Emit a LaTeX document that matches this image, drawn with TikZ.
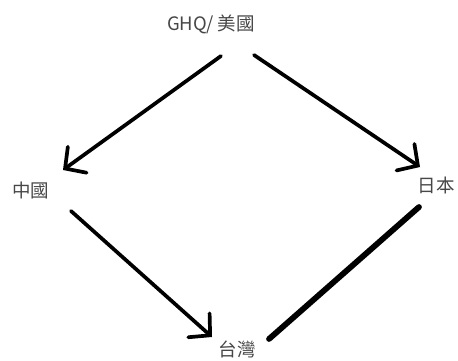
\documentclass[tikz,border=0pt]{standalone}
\usepackage{fontspec}
\setmainfont{Noto Sans CJK TC}
\usetikzlibrary{arrows.meta}
\begin{document}
\begin{tikzpicture}[x=1pt,y=-1pt,
  lbl/.style={inner sep=0pt,font=\fontsize{18.5}{20}\selectfont,text=black!72},
  conn/.style={line width=3.7pt,line cap=round,-{Straight Barb[length=15pt,width=32pt,line cap=round]}},
  thickconn/.style={line width=5.8pt,line cap=round}]
\useasboundingbox (0,0) rectangle (458,361);
\fill[white] (0,0) rectangle (458,361);
\node[lbl] (usa) at (211,24) {GHQ/ 美國};
\node[lbl] (china) at (31,190) {中國};
\node[lbl] (japan) at (436,185) {日本};
\node[lbl] (taiwan) at (237,349) {台灣};
\coordinate (a1) at (221,56);
\coordinate (a2) at (63,170);
\coordinate (b1) at (254,55);
\coordinate (b2) at (420,167);
\coordinate (c1) at (71,211);
\coordinate (c2) at (212,337);
\coordinate (d1) at (419,207);
\coordinate (d2) at (269,339);
\draw[conn] (a1) -- (a2);
\draw[conn] (b1) -- (b2);
\draw[conn] (c1) -- (c2);
\draw[thickconn] (d1) -- (d2);
\end{tikzpicture}
\end{document}
